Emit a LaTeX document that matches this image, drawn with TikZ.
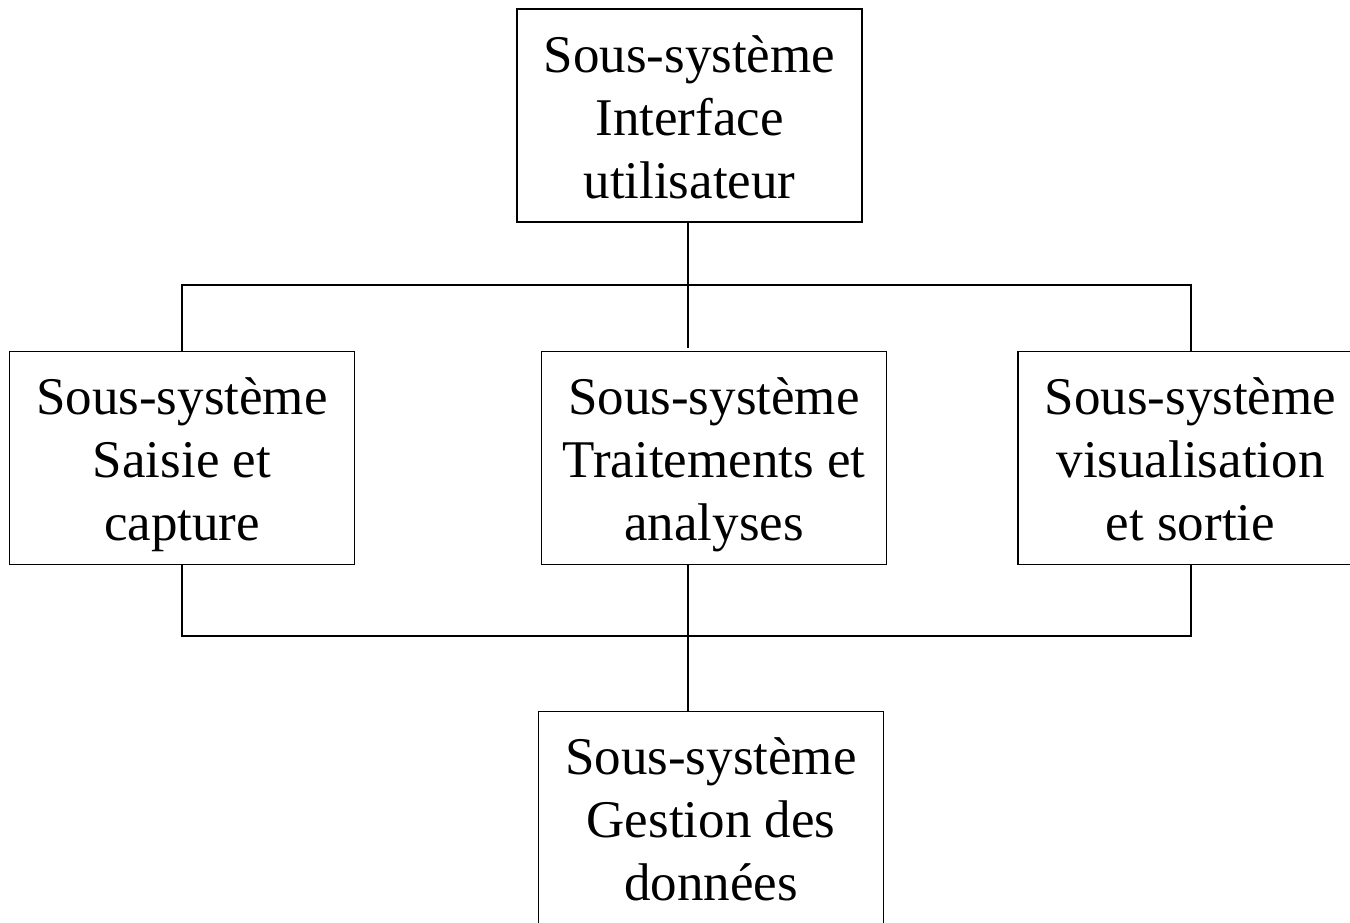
\documentclass[tikz,border=0pt]{standalone}
\usepackage{fontspec}
\setmainfont{Liberation Serif}
\newcommand\mytopstrut{\rule{0pt}{58pt}}
\begin{document}
\begin{tikzpicture}[x=1pt,y=-1pt,
  box/.style={draw,line width=1.6pt,minimum width=345pt,minimum height=213pt,inner sep=0pt,align=center,font=\fontsize{53}{63}\selectfont},
  conn/.style={line width=2pt}]
\useasboundingbox (0,0) rectangle (1350,923);
\clip (0,0) rectangle (1350,923);
\node[box] (top) at (689.5,115.5) {\mytopstrut Sous-système\\Interface\\utilisateur\strut};
\node[box] (left) at (182,458) {\mytopstrut Sous-système\\Saisie et\\capture\strut};
\node[box] (mid) at (714,458) {\mytopstrut Sous-système\\Traitements et\\analyses\strut};
\node[box] (right) at (1190.5,458) {\mytopstrut Sous-système\\visualisation\\et sortie\strut};
\node[box] (bot) at (711,818) {\mytopstrut Sous-système\\Gestion des\\données\strut};
\coordinate (j1) at (688,285);
\coordinate (j2) at (688,636);
\draw[conn] (top.south -| j1) -- (j1);
\draw[conn] (j1) -- (688,348);
\draw[conn] (left.north) |- (j1) -| (1191,351);
\draw[conn] (left.south) |- (j2) -| (1191,565);
\draw[conn] (mid.south -| j2) -- (j2) -- (bot.north -| j2);
\end{tikzpicture}
\end{document}
